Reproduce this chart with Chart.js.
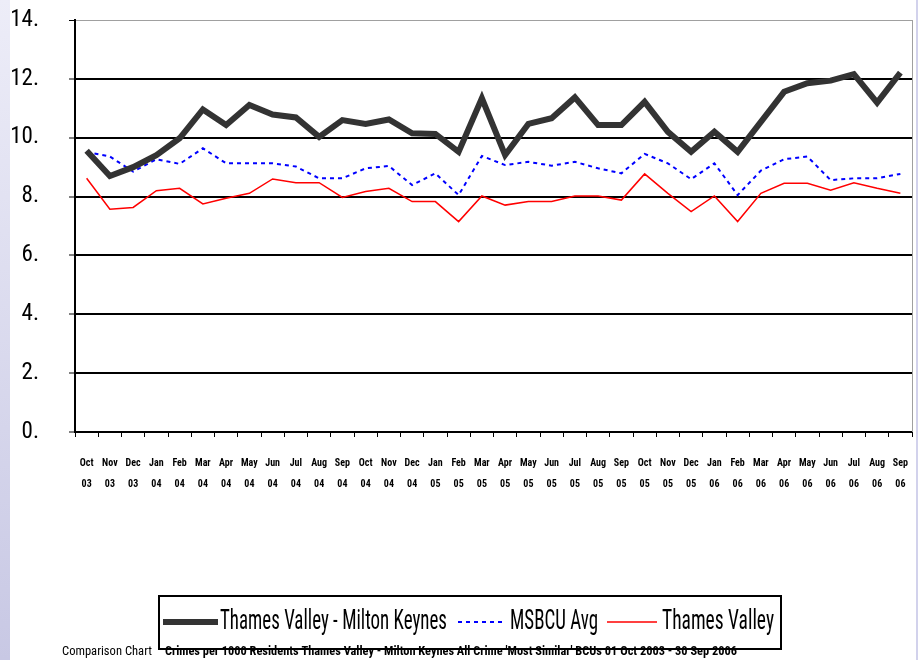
<!DOCTYPE html>
<html>
<head>
<meta charset="utf-8">
<script src="https://cdn.jsdelivr.net/npm/chart.js@4.4.1/dist/chart.umd.min.js"></script>
<style>
  html, body { margin: 0; padding: 0; background: #fff; }
  #wrap { position: relative; width: 919px; height: 660px; overflow: hidden; background: #fff; }
  #leftBar { position: absolute; left: 0; top: 0; width: 10px; height: 660px; background: linear-gradient(#ededf8, #c8c8e4); }
  #rightBar { position: absolute; left: 916px; top: 0; width: 2px; height: 660px; background: #d2d2ec; }
  canvas { position: absolute; left: 0; top: 0; }
</style>
</head>
<body>
<div id="wrap">
  <div id="leftBar"></div>
  <div id="rightBar"></div>
  <canvas id="chart" width="919" height="660"></canvas>
</div>
<script>
const months = ['Oct', 'Nov', 'Dec', 'Jan', 'Feb', 'Mar', 'Apr', 'May', 'Jun', 'Jul', 'Aug', 'Sep',
  'Oct', 'Nov', 'Dec', 'Jan', 'Feb', 'Mar', 'Apr', 'May', 'Jun', 'Jul', 'Aug', 'Sep',
  'Oct', 'Nov', 'Dec', 'Jan', 'Feb', 'Mar', 'Apr', 'May', 'Jun', 'Jul', 'Aug', 'Sep'];
const years = ['03', '03', '03', '04', '04', '04', '04', '04', '04', '04', '04', '04',
  '04', '04', '04', '05', '05', '05', '05', '05', '05', '05', '05', '05',
  '05', '05', '05', '06', '06', '06', '06', '06', '06', '06', '06', '06'];

const tvMiltonKeynes = [9.56, 8.70, 9.00, 9.41, 9.98, 10.96, 10.43, 11.11, 10.79, 10.69, 10.03, 10.60,
  10.47, 10.62, 10.15, 10.13, 9.52, 11.34, 9.41, 10.47, 10.66, 11.37, 10.43, 10.43,
  11.22, 10.20, 9.52, 10.20, 9.52, 10.54, 11.56, 11.85, 11.94, 12.16, 11.19, 12.21];
const msbcuAvg = [9.52, 9.36, 8.85, 9.27, 9.11, 9.64, 9.13, 9.13, 9.13, 9.02, 8.62, 8.62,
  8.96, 9.04, 8.39, 8.79, 8.05, 9.38, 9.07, 9.18, 9.05, 9.18, 8.96, 8.79,
  9.45, 9.13, 8.59, 9.13, 8.05, 8.88, 9.27, 9.36, 8.56, 8.62, 8.62, 8.77];
const thamesValley = [8.62, 7.57, 7.63, 8.20, 8.28, 7.75, 7.94, 8.11, 8.60, 8.47, 8.47, 7.97,
  8.17, 8.28, 7.83, 7.83, 7.15, 8.02, 7.71, 7.83, 7.83, 8.02, 8.02, 7.88,
  8.77, 8.11, 7.49, 8.02, 7.15, 8.11, 8.45, 8.45, 8.22, 8.47, 8.28, 8.11];

const seriesNames = ['Thames Valley - Milton Keynes', 'MSBCU Avg', 'Thames Valley'];
const footerLead = 'Comparison Chart';
const footerText = "Crimes per 1000 Residents Thames Valley - Milton Keynes All Crime 'Most Similar' BCUs 01 Oct 2003 - 30 Sep 2006";

const NARROW = "'Roboto Condensed', 'DejaVu Sans Condensed', sans-serif";

// text squeezed to a given width (the original uses a very condensed face)
function drawFit(ctx, text, x, y, width, font) {
  ctx.save();
  ctx.font = font;
  const w = ctx.measureText(text).width;
  ctx.translate(x, y);
  ctx.scale(width / w, 1);
  ctx.textAlign = 'left';
  ctx.textBaseline = 'alphabetic';
  ctx.fillText(text, 0, 0);
  ctx.restore();
}

const legendBoxPlugin = {
  id: 'legendBox',
  afterDraw(chart) {
    const { ctx, chartArea } = chart;
    // right frame of the plot area
    ctx.save();
    ctx.strokeStyle = '#a0a0a0';
    ctx.lineWidth = 1;
    ctx.beginPath();
    ctx.moveTo(chartArea.right + 0.5, chartArea.top);
    ctx.lineTo(chartArea.right + 0.5, chartArea.bottom);
    ctx.stroke();

    // legend frame
    ctx.strokeStyle = '#000';
    ctx.lineWidth = 2;
    ctx.strokeRect(159, 596, 622, 53);

    const items = [
      { sx: 163, sl: 55, tx: 220, tw: 227 },
      { sx: 458, sl: 47, tx: 510, tw: 88 },
      { sx: 607, sl: 50, tx: 662, tw: 112 },
    ];
    chart.data.datasets.forEach((ds, i) => {
      const it = items[i];
      ctx.save();
      ctx.strokeStyle = ds.borderColor;
      ctx.lineWidth = ds.borderWidth;
      ctx.setLineDash(ds.borderDash || []);
      ctx.beginPath();
      ctx.moveTo(it.sx, 622);
      ctx.lineTo(it.sx + it.sl, 622);
      ctx.stroke();
      ctx.restore();
      ctx.fillStyle = '#000';
      drawFit(ctx, ds.label, it.tx, 629, it.tw, `28px ${NARROW}`);
    });

    // footer caption
    ctx.fillStyle = '#000';
    drawFit(ctx, footerLead, 62, 655, 90, `13px ${NARROW}`);
    drawFit(ctx, footerText, 165, 655, 572, `bold 13px ${NARROW}`);
    ctx.restore();
  },
};

new Chart(document.getElementById('chart'), {
  type: 'line',
  data: {
    labels: months.map((m, i) => [m, years[i]]),
    datasets: [
      {
        label: seriesNames[0],
        data: tvMiltonKeynes,
        borderColor: '#333333',
        borderWidth: 6,
      },
      {
        label: seriesNames[1],
        data: msbcuAvg,
        borderColor: '#0000ff',
        borderWidth: 2,
        borderDash: [4, 4],
      },
      {
        label: seriesNames[2],
        data: thamesValley,
        borderColor: '#ff0000',
        borderWidth: 1.5,
      },
    ],
  },
  plugins: [legendBoxPlugin],
  options: {
    responsive: false,
    animation: false,
    devicePixelRatio: 1,
    layout: { padding: { left: 0, top: 20, right: 7, bottom: 168 } },
    elements: {
      point: { radius: 0 },
      line: { tension: 0, borderJoinStyle: 'miter' },
    },
    scales: {
      x: {
        offset: true,
        // fixed box, no extra side padding from the label padding
        afterFit(scale) {
          scale.height = 60;
          scale.paddingLeft = 0;
          scale.paddingRight = 0;
        },
        border: { color: '#000', width: 2 },
        grid: {
          offset: true,
          drawOnChartArea: false,
          drawTicks: true,
          tickLength: 5,
          color: '#000',
          lineWidth: 1,
        },
        ticks: {
          autoSkip: false,
          maxRotation: 0,
          minRotation: 0,
          padding: 16,
          color: '#000',
          font: { family: NARROW, size: 10, weight: 'bold', lineHeight: 2.1 },
        },
      },
      y: {
        min: 0,
        max: 14,
        afterFit(scale) {
          scale.width = 75;
          scale.paddingTop = 0;
          scale.paddingBottom = 0;
        },
        border: { color: '#000', width: 2 },
        grid: {
          color: (c) => (c.tick.value === 14 ? '#a0a0a0' : '#000'),
          lineWidth: (c) => (c.tick.value === 14 ? 1 : 2),
          tickColor: '#000',
          tickWidth: 1,
          tickLength: 6,
        },
        ticks: {
          stepSize: 2,
          padding: 30,
          color: '#000',
          font: { family: NARROW, size: 23 },
          callback: (v) => v + '.',
        },
      },
    },
    plugins: {
      legend: { display: false },
      tooltip: { enabled: false },
    },
  },
});
</script>
</body>
</html>
